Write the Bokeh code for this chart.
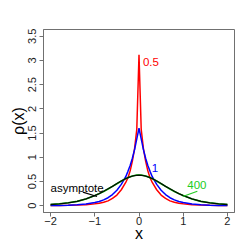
from bokeh.plotting import figure
from bokeh.models import FixedTicker, Range1d
from bokeh.core.properties import value
from bokeh.embed import file_html
from bokeh.resources import INLINE

xs = [-2.0, -1.8, -1.6, -1.4, -1.2, -1.0, -0.9, -0.8, -0.7, -0.6, -0.5, -0.4, -0.3, -0.25, -0.2, -0.15, -0.1, -0.05,
      0.0,
      0.05, 0.1, 0.15, 0.2, 0.25, 0.3, 0.4, 0.5, 0.6, 0.7, 0.8, 0.9, 1.0, 1.2, 1.4, 1.6, 1.8, 2.0]

rho_05 = [0.003, 0.005, 0.008, 0.013, 0.022, 0.04, 0.05, 0.07, 0.10, 0.15, 0.22, 0.33, 0.48, 0.58, 0.72, 0.92, 1.18, 1.58,
          3.12,
          1.58, 1.18, 0.92, 0.72, 0.58, 0.48, 0.33, 0.22, 0.15, 0.10, 0.07, 0.05, 0.04, 0.022, 0.013, 0.008, 0.005, 0.003]

rho_1 = [0.003, 0.006, 0.01, 0.019, 0.035, 0.065, 0.088, 0.12, 0.165, 0.23, 0.32, 0.44, 0.60, 0.71, 0.83, 0.98, 1.16, 1.38,
         1.60,
         1.38, 1.16, 0.98, 0.83, 0.71, 0.60, 0.44, 0.32, 0.23, 0.165, 0.12, 0.088, 0.065, 0.035, 0.019, 0.01, 0.006, 0.003]

rho_400 = [0.025, 0.04, 0.06, 0.09, 0.14, 0.21, 0.25, 0.295, 0.345, 0.40, 0.455, 0.51, 0.56, 0.58, 0.598, 0.613, 0.625, 0.633,
           0.636,
           0.633, 0.625, 0.613, 0.598, 0.58, 0.56, 0.51, 0.455, 0.40, 0.345, 0.295, 0.25, 0.21, 0.14, 0.09, 0.06, 0.04, 0.025]

rho_asym = [0.025, 0.04, 0.06, 0.09, 0.14, 0.21, 0.25, 0.30, 0.35, 0.40, 0.46, 0.51, 0.56, 0.58, 0.595, 0.61, 0.62, 0.628,
            0.63,
            0.628, 0.62, 0.61, 0.595, 0.58, 0.56, 0.51, 0.46, 0.40, 0.35, 0.30, 0.25, 0.21, 0.14, 0.09, 0.06, 0.04, 0.025]

x_ticks = [-2, -1, 0, 1, 2]
x_tick_labels = ["\u22122", "\u22121", "0", "1", "2"]
y_ticks = [0, 0.5, 1, 1.5, 2, 2.5, 3, 3.5]
y_tick_labels = ["0", "0.5", "1", "1.5", "2", "2.5", "3", "3.5"]

FONT = "Liberation Sans"
BOX = "#707070"

p = figure(width=249, height=249, output_backend="svg", toolbar_location=None,
           x_range=Range1d(-2.16, 2.16), y_range=Range1d(-0.14, 3.64),
           min_border_left=43, min_border_right=15, min_border_top=29, min_border_bottom=37)
p.grid.visible = False
p.outline_line_color = BOX
p.outline_line_width = 1
p.background_fill_color = "white"
p.border_fill_color = "white"

for ax in (p.xaxis[0], p.yaxis[0]):
    ax.axis_line_color = BOX
    ax.major_tick_line_color = BOX
    ax.minor_tick_line_color = None
    ax.major_tick_in = 0
    ax.major_tick_out = 4
    ax.major_label_text_font = FONT
    ax.major_label_text_font_size = "11px"
    ax.major_label_text_color = "#222222"
    ax.axis_label_text_font = FONT
    ax.axis_label_text_font_size = "16px"
    ax.axis_label_text_font_style = "normal"
    ax.axis_label_text_color = "black"

p.xaxis.ticker = FixedTicker(ticks=x_ticks)
p.xaxis.major_label_overrides = dict(zip(x_ticks, x_tick_labels))
p.yaxis.ticker = FixedTicker(ticks=y_ticks)
p.yaxis.major_label_overrides = dict(zip(y_ticks, y_tick_labels))
p.yaxis.major_label_orientation = "vertical"
p.xaxis.axis_label = "x"
p.yaxis.axis_label = "\u03c1(x)"
p.xaxis.major_label_standoff = 0
p.yaxis.major_label_standoff = 3
p.xaxis.axis_label_standoff = -3
p.yaxis.axis_label_standoff = -1

p.line(xs, rho_05, line_color="#FF0000", line_width=1.5)
p.line(xs, rho_1, line_color="#0000FF", line_width=1.5)
p.line(xs, rho_400, line_color="#00B000", line_width=1.6)
p.line(xs, rho_asym, line_color="black", line_width=1.3, line_alpha=0.9)

# annotations
p.text(x=[0.09], y=[2.96], text=["0.5"], text_color="#FF0000", text_font=value(FONT),
       text_font_size="11.5px", text_align="left", text_baseline="middle")
p.text(x=[0.36], y=[0.78], text=["1"], text_color="#0000FF", text_font=value(FONT),
       text_font_size="11.5px", text_align="center", text_baseline="middle")
p.text(x=[1.31], y=[0.43], text=["400"], text_color="#22CC22", text_font=value(FONT),
       text_font_size="11.5px", text_align="center", text_baseline="middle")
p.text(x=[-1.40], y=[0.36], text=["asymptote"], text_color="black", text_font=value(FONT),
       text_font_size="11.5px", text_align="center", text_baseline="middle")
p.segment(x0=[0.99], y0=[0.19], x1=[1.32], y1=[0.30], line_color="#22CC22", line_width=1.2)
p.segment(x0=[-1.27], y0=[0.28], x1=[-0.95], y1=[0.19], line_color="black", line_width=1.2)

open("out.html", "w").write(file_html(p, INLINE))
